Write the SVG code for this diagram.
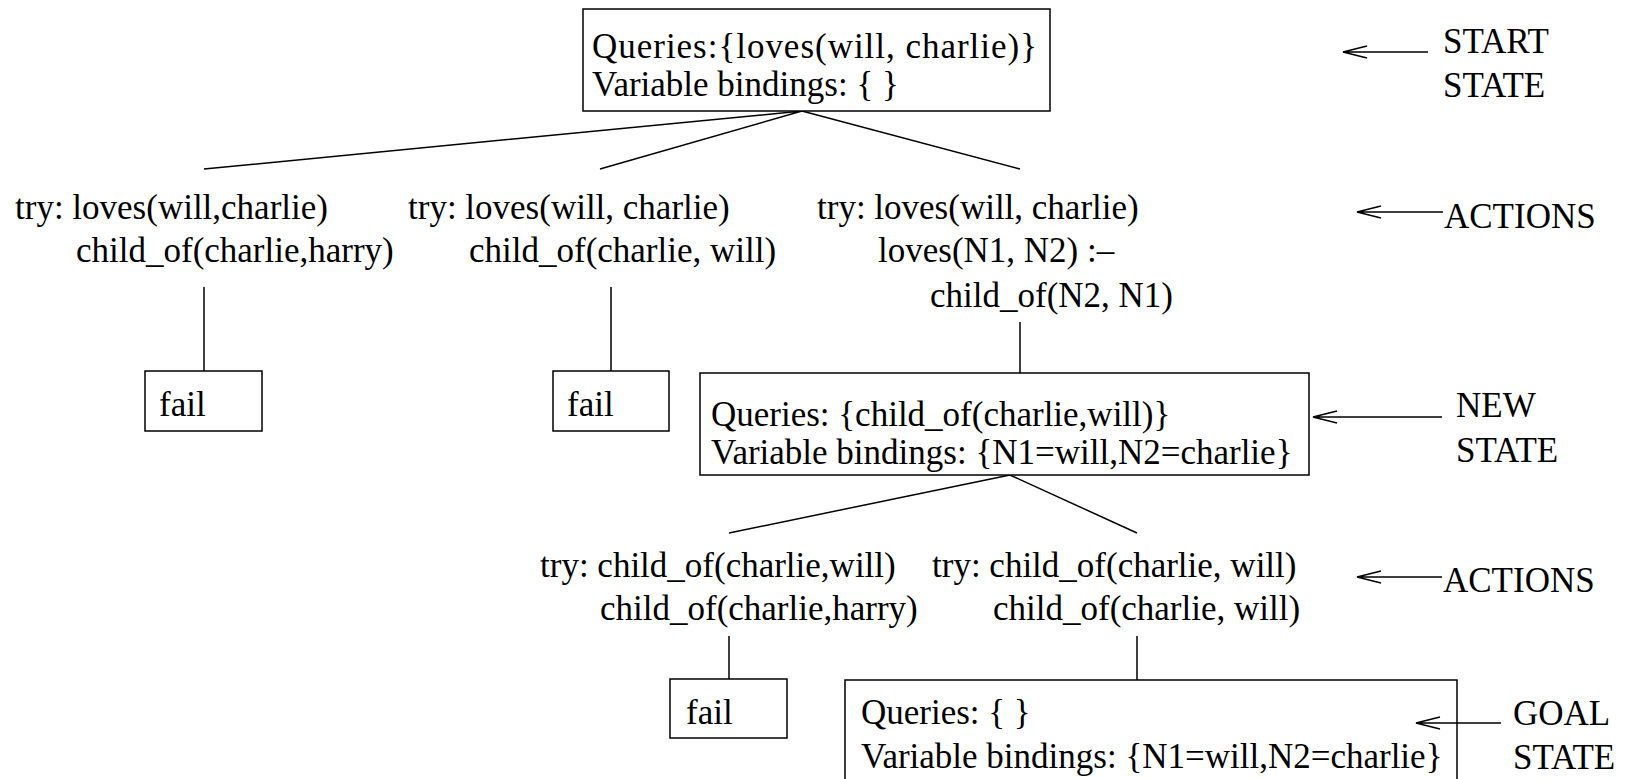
<svg xmlns="http://www.w3.org/2000/svg" width="1629" height="779" viewBox="0 0 1629 779">
<style>
text { font-family: "Liberation Serif", "Times New Roman", serif; font-size: 35px; fill: #000; }
.box { fill: #fff; stroke: #000; stroke-width: 1.5; }
.ln { fill: none; stroke: #000; stroke-width: 1.5; }
</style>
<rect width="1629" height="779" fill="#fff"/>
<g id="connectors">
<path class="ln" d="M802,111 L204,169 M802,111 L600,169 M802,111 L1020,169"/>
<path class="ln" d="M204,287 L204,371 M611,287 L611,371 M1020,322 L1020,373"/>
<path class="ln" d="M1010,475 L729,533 M1010,475 L1137,533"/>
<path class="ln" d="M729,636 L729,679 M1137,636 L1137,680"/>
</g>
<g id="start-state">
<rect class="box" x="583" y="9" width="467" height="102"/>
<text x="592" y="58" textLength="445">Queries:{loves(will, charlie)}</text>
<text x="592" y="96">Variable bindings: { }</text>
</g>
<g id="action-1">
<text x="15" y="219">try: loves(will,charlie)</text>
<text x="76" y="262">child_of(charlie,harry)</text>
</g>
<g id="action-2">
<text x="408" y="219">try: loves(will, charlie)</text>
<text x="469" y="262">child_of(charlie, will)</text>
</g>
<g id="action-3">
<text x="817" y="219">try: loves(will, charlie)</text>
<text x="878" y="262">loves(N1, N2) :–</text>
<text x="930" y="307">child_of(N2, N1)</text>
</g>
<g id="fail-1">
<rect class="box" x="145" y="371" width="117" height="60"/>
<text x="159" y="416">fail</text>
</g>
<g id="fail-2">
<rect class="box" x="553" y="371" width="116" height="60"/>
<text x="567" y="416">fail</text>
</g>
<g id="new-state">
<rect class="box" x="700" y="373" width="609" height="102"/>
<text x="711" y="426">Queries: {child_of(charlie,will)}</text>
<text x="711" y="464">Variable bindings: {N1=will,N2=charlie}</text>
</g>
<g id="action-4">
<text x="540" y="577">try: child_of(charlie,will)</text>
<text x="600" y="620">child_of(charlie,harry)</text>
</g>
<g id="action-5">
<text x="932" y="577">try: child_of(charlie, will)</text>
<text x="993" y="620">child_of(charlie, will)</text>
</g>
<g id="fail-3">
<rect class="box" x="670" y="679" width="117" height="59"/>
<text x="686" y="724">fail</text>
</g>
<g id="goal-state">
<rect class="box" x="845" y="680" width="612" height="120"/>
<text x="861" y="724">Queries: { }</text>
<text x="861" y="768">Variable bindings: {N1=will,N2=charlie}</text>
</g>
<g id="labels">
<path class="ln" d="M1428,52 L1343,52 M1367,46 L1343,52 L1367,58"/>
<text x="1443" y="53">START</text>
<text x="1443" y="97">STATE</text>
<path class="ln" d="M1443,212 L1357,212 M1381,206 L1357,212 L1381,218"/>
<text x="1444" y="228">ACTIONS</text>
<path class="ln" d="M1442,417 L1313,417 M1337,411 L1313,417 L1337,423"/>
<text x="1456" y="417">NEW</text>
<text x="1456" y="462">STATE</text>
<path class="ln" d="M1442,577 L1357,577 M1381,571 L1357,577 L1381,583"/>
<text x="1443" y="592">ACTIONS</text>
<path class="ln" d="M1501,723 L1416,723 M1440,717 L1416,723 L1440,729"/>
<text x="1513" y="725">GOAL</text>
<text x="1513" y="769">STATE</text>
</g>
</svg>
